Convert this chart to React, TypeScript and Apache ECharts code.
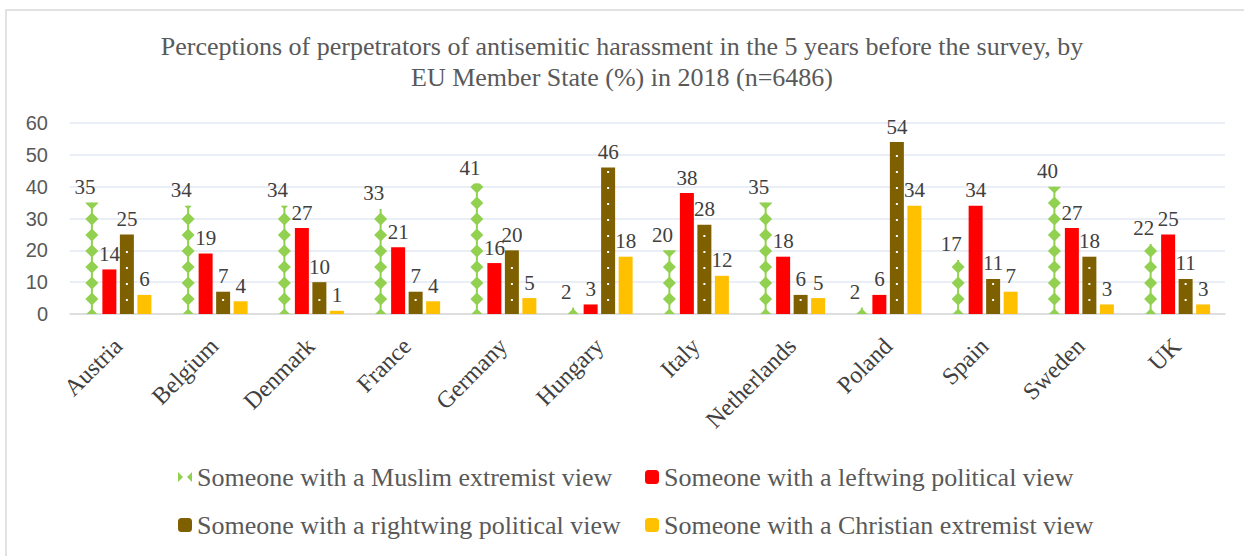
import React, { useEffect, useRef } from "react";
import * as echarts from "echarts";

const categories = ["Austria", "Belgium", "Denmark", "France", "Germany", "Hungary", "Italy", "Netherlands", "Poland", "Spain", "Sweden", "UK"];
const seriesNames = [
  "Someone with a Muslim extremist view",
  "Someone with a leftwing political view",
  "Someone with a rightwing political view",
  "Someone with a Christian extremist view",
];
const muslim = [35, 34, 34, 33, 41, 2, 20, 35, 2, 17, 40, 22];
const leftwing = [14, 19, 27, 21, 16, 3, 38, 18, 6, 34, 27, 25];
const rightwing = [25, 7, 10, 7, 20, 46, 28, 6, 54, 11, 18, 11];
const christian = [6, 4, 1, 4, 5, 18, 12, 5, 34, 7, 3, 3];
const yTicks = [0, 10, 20, 30, 40, 50, 60];

const GREEN = "#92d050";
const RED = "#ff0000";
const BROWN = "#7f6000";
const YELLOW = "#ffc000";
const BAR_W = 14;
const GAP = 3.5;
const SERIF = "'Liberation Serif', 'DejaVu Serif', serif";

function offsetOf(i: number) {
  return (i - 1.5) * (BAR_W + GAP);
}

function clipPoly(pts: number[][], yMin: number, yMax: number) {
  const clip = (p: number[][], inside: (q: number[]) => boolean, yl: number) => {
    const out: number[][] = [];
    for (let i = 0; i < p.length; i++) {
      const a = p[i];
      const b = p[(i + 1) % p.length];
      const ia = inside(a);
      const ib = inside(b);
      if (ia) out.push(a);
      if (ia !== ib) {
        const t = (yl - a[1]) / (b[1] - a[1]);
        out.push([a[0] + t * (b[0] - a[0]), yl]);
      }
    }
    return out;
  };
  let r = clip(pts, (q) => q[1] >= yMin, yMin);
  if (r.length) r = clip(r, (q) => q[1] <= yMax, yMax);
  return r;
}

export default function App() {
  const ref = useRef<HTMLDivElement>(null);
  useEffect(() => {
    if (!ref.current) return;
    const chart = echarts.init(ref.current, undefined, { renderer: "svg" });

    const labelStyle = {
      show: true,
      position: "top" as const,
      distance: 5,
      color: "#404040",
      fontFamily: SERIF,
      fontSize: 21,
    };

    const legendBase = {
      itemWidth: 14,
      itemHeight: 14,
      itemGap: 0,
      textStyle: { color: "#595959", fontFamily: SERIF, fontSize: 26, lineHeight: 28 },
      selectedMode: false as const,
    };

    const option: any = {
      animation: false,
      backgroundColor: "#ffffff",
      title: {
        text: "Perceptions of perpetrators of antisemitic harassment in the 5 years before the survey, by\nEU Member State (%) in 2018 (n=6486)",
        left: "center",
        top: 26,
        textStyle: { color: "#595959", fontFamily: SERIF, fontSize: 26, fontWeight: "normal", lineHeight: 31 },
      },
      legend: [
        { ...legendBase, data: [{ name: seriesNames[0], icon: "path://M0,0L5,5L0,10Z M14,0L9,5L14,10Z", itemStyle: { color: GREEN } }], left: 173, top: 458 },
        { ...legendBase, data: [seriesNames[1]], left: 640, top: 458 },
        { ...legendBase, data: [seriesNames[2]], left: 173, top: 506 },
        { ...legendBase, data: [seriesNames[3]], left: 640, top: 506 },
      ],
      grid: { left: 70, right: 19, top: 123, bottom: 556 - 314 },
      xAxis: {
        type: "category",
        data: categories,
        axisLine: { lineStyle: { color: "#d9d9d9", width: 1.5 } },
        axisTick: { show: false },
        axisLabel: { rotate: 45, margin: 28, color: "#404040", fontFamily: SERIF, fontSize: 24 },
      },
      yAxis: {
        type: "value",
        min: yTicks[0],
        max: yTicks[yTicks.length - 1],
        interval: 10,
        axisLine: { show: false },
        axisTick: { show: false },
        splitLine: { lineStyle: { color: "#e3e9f3", width: 1.5 } },
        axisLabel: { margin: 22, color: "#595959", fontFamily: "'Liberation Sans', Arial, sans-serif", fontSize: 20 },
      },
      graphic: [
        { type: "rect", shape: { x: 6, y: 10, width: 1400, height: 700 }, style: { fill: "none", stroke: "#d9d9d9", lineWidth: 1.5 }, silent: true },
      ],
      series: [
        {
          name: seriesNames[0],
          type: "bar",
          data: muslim,
          barWidth: BAR_W,
          barGap: "25%",
          itemStyle: { color: "rgba(0,0,0,0)" },
          label: { ...labelStyle, offset: [-7, 0] },
        },
        {
          name: seriesNames[1],
          type: "bar",
          data: leftwing,
          barWidth: BAR_W,
          barGap: "25%",
          itemStyle: { color: RED },
          label: labelStyle,
        },
        {
          name: seriesNames[2],
          type: "bar",
          data: rightwing,
          barWidth: BAR_W,
          barGap: "25%",
          itemStyle: { color: BROWN },
          label: labelStyle,
        },
        {
          name: seriesNames[3],
          type: "bar",
          data: christian,
          barWidth: BAR_W,
          barGap: "25%",
          itemStyle: { color: YELLOW },
          label: labelStyle,
        },
        {
          name: "muslim-pattern",
          type: "custom",
          silent: true,
          z: 5,
          data: muslim.map((v, i) => [i, v]),
          encode: { x: 0, y: 1 },
          renderItem: (params: any, api: any) => {
            const idx = api.value(0);
            const val = api.value(1);
            const base = api.coord([idx, 0]);
            const top = api.coord([idx, val]);
            const cx = base[0] + offsetOf(0);
            const yTop = top[1];
            const yBot = base[1];
            const children: any[] = [];
            if (yBot - yTop > 2) {
              children.push({ type: "rect", shape: { x: cx - 1, y: yTop, width: 2, height: yBot - yTop }, style: { fill: GREEN } });
            }
            const w = 13;
            const h = 13;
            for (let k = 0; k < 40; k++) {
              const cy = yBot + 1 - k * 16;
              if (cy + h / 2 < yTop) break;
              const pts = [
                [cx, cy - h / 2],
                [cx + w / 2, cy],
                [cx, cy + h / 2],
                [cx - w / 2, cy],
              ];
              const c = clipPoly(pts, yTop, yBot);
              if (c.length >= 3) {
                children.push({ type: "polygon", shape: { points: c }, style: { fill: GREEN } });
              }
            }
            return { type: "group", children };
          },
        },
        {
          name: "rightwing-pattern",
          type: "custom",
          silent: true,
          z: 5,
          data: rightwing.map((v, i) => [i, v]),
          encode: { x: 0, y: 1 },
          renderItem: (params: any, api: any) => {
            const idx = api.value(0);
            const val = api.value(1);
            const base = api.coord([idx, 0]);
            const top = api.coord([idx, val]);
            const cx = base[0] + offsetOf(2);
            const children: any[] = [];
            for (let k = 0; k < 40; k++) {
              const cy = base[1] - 14 - k * 16;
              if (cy < top[1] + 3) break;
              children.push({ type: "rect", shape: { x: cx - 1, y: cy - 1, width: 2, height: 2 }, style: { fill: "#ffffff" } });
            }
            return { type: "group", children };
          },
        },
      ],
    };
    chart.setOption(option);
    return () => chart.dispose();
  }, []);
  return <div ref={ref} style={{ position: "fixed", left: 0, top: 0, width: 1244, height: 556 }} />;
}
